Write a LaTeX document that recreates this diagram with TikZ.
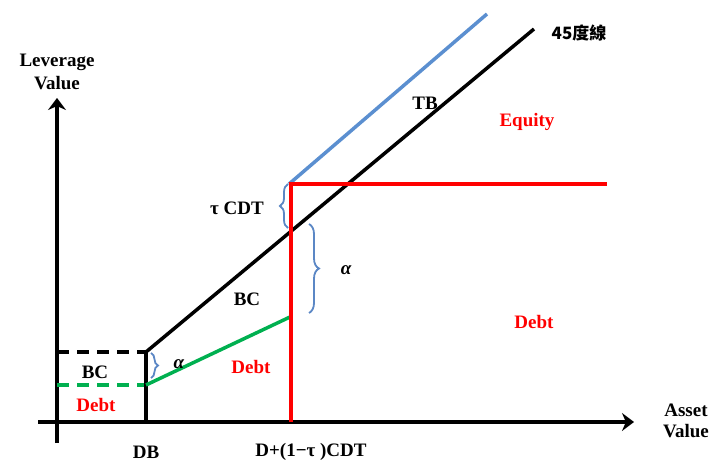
\documentclass[tikz,border=0pt]{standalone}
\usepackage{fontspec}
\setmainfont{Liberation Serif}
\newfontfamily\cjkfont{Noto Sans CJK TC}
\usetikzlibrary{arrows.meta,decorations.pathreplacing}
\definecolor{bluebr}{HTML}{5B87C5}
\definecolor{blueln}{HTML}{5B8FD0}
\definecolor{greenln}{HTML}{00B050}
\definecolor{redln}{HTML}{FF0000}
\tikzset{
  lbl/.style={font=\fontsize{19}{21}\selectfont\bfseries, inner sep=0pt},
  redlbl/.style={lbl, text=redln},
  axis/.style={line width=3.5pt, -{Stealth[length=12pt,width=18pt]}},
  blk/.style={line width=3.5pt, black},
  brc/.style={bluebr, line width=1.8pt, decorate},
}
\begin{document}
\begin{tikzpicture}[x=1pt,y=-1pt]
\useasboundingbox (0,0) rectangle (711,462);
% coordinates
\coordinate (yb) at (57,443);
\coordinate (yt) at (57,98);
\coordinate (xl) at (38,422);
\coordinate (xr) at (634,422);
\coordinate (dbT) at (146,352);
\coordinate (dbG) at (146,385);
\coordinate (dbB) at (146,422);
\coordinate (bcL) at (57,352);
\coordinate (gL) at (57,385);
\coordinate (diagE) at (534,29);
\coordinate (blS) at (289,184);
\coordinate (blE) at (487,14);
\coordinate (rB) at (291,422);
\coordinate (rT) at (291,184);
\coordinate (rR) at (607,184);
\coordinate (gE) at (290,317);
% axes
\draw[axis] (yb) -- (yt);
\draw[axis] (xl) -- (xr);
% dashed lines
\draw[line width=3.5pt, dash pattern=on 12pt off 8pt] (bcL) -- (dbT);
\draw[line width=3.5pt, greenln, dash pattern=on 12pt off 8pt] (gL) -- (dbG);
% DB vertical
\draw[blk] (dbB) -- (dbT);
% 45 degree line
\draw[blk] (dbT) -- (diagE);
% blue line
\draw[blueln, line width=3.5pt] (blS) -- (blE);
% green line
\draw[greenln, line width=3.5pt] (dbG) -- (gE);
% red
\draw[redln, line width=3.5pt] (rB) -- (rT) -- (rR);
% braces
\draw[brc, decoration={brace, amplitude=8pt, aspect=0.5}] (288,228) -- (288,184);
\draw[brc, decoration={brace, amplitude=10pt, aspect=0.5}] (309,224) -- (309,313);
\draw[brc, decoration={brace, amplitude=7pt, aspect=0.5}] (151,353) -- (151,378);
% labels
\node[lbl] (lev) at (57,62) {Leverage};
\node[lbl] (val) at (57,83) {Value};
\node[lbl] (ast) at (686,410) {Asset};
\node[lbl] (avl) at (686,431) {Value};
\node[lbl] (db) at (146,452) {DB};
\node[lbl] (dcdt) at (311,452) {D+(1−τ )CDT};
\node[lbl, font=\fontsize{17}{19}\selectfont\cjkfont\bfseries] (f45) at (579,33) {45度線};
\node[lbl] (tb) at (425,103) {TB};
\node[redlbl] (eq) at (527,122) {Equity};
\node[lbl] (tcdt) at (237,208) {τ CDT};
\node[lbl, font=\fontsize{19}{21}\selectfont\bfseries\itshape] (al1) at (346,270) {α};
\node[lbl] (bc1) at (247,299) {BC};
\node[redlbl] (d1) at (534,322) {Debt};
\node[redlbl] (d2) at (251,367) {Debt};
\node[lbl] (bc2) at (95,372) {BC};
\node[redlbl] (d3) at (96,405) {Debt};
\node[lbl, font=\fontsize{19}{21}\selectfont\bfseries\itshape] (al2) at (179,364) {α};
\end{tikzpicture}
\end{document}
